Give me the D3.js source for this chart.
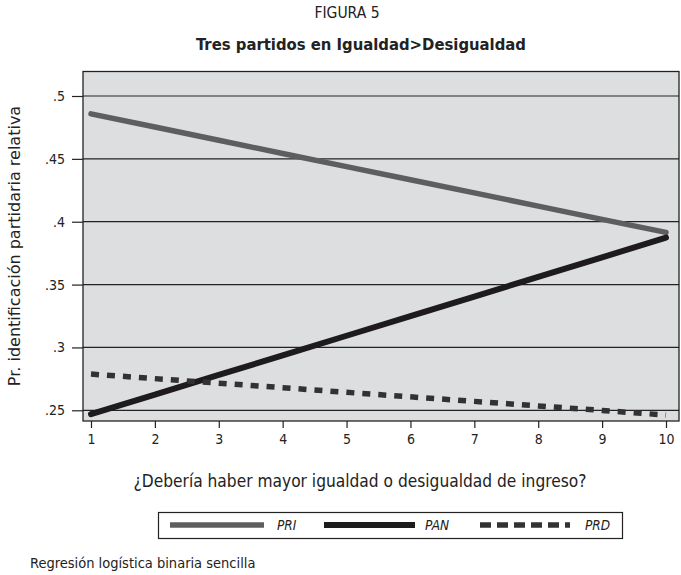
<!DOCTYPE html>
<html>
<head>
<meta charset="utf-8">
<script src="https://cdn.jsdelivr.net/npm/d3@7"></script>
<style>
  body { margin: 0; background: #fff; }
  svg { display: block; }
</style>
</head>
<body>
<div id="chart"></div>
<script>
const xValues = [1, 2, 3, 4, 5, 6, 7, 8, 9, 10];
const pri = [0.4858, 0.4753, 0.4648, 0.4543, 0.4438, 0.4334, 0.4229, 0.4124, 0.4019, 0.3915];
const pan = [0.2470, 0.2625, 0.2781, 0.2937, 0.3093, 0.3249, 0.3405, 0.3561, 0.3717, 0.3873];
const prd = [0.2788, 0.2752, 0.2716, 0.2680, 0.2643, 0.2607, 0.2571, 0.2535, 0.2499, 0.2462];
const yTicks = [0.25, 0.3, 0.35, 0.4, 0.45, 0.5];
const yTickLabels = [".25", ".3", ".35", ".4", ".45", ".5"];
const seriesNames = ["PRI", "PAN", "PRD"];

const width = 681;
const height = 575;
const condensed = "'DejaVu Sans Condensed', 'Liberation Sans Narrow', 'DejaVu Sans', sans-serif";

// plot frame
const plot = {left: 83, right: 679, top: 71.5, bottom: 421};

const x = d3.scaleLinear().domain([1, 10]).range([91, 666]);
const y = d3.scaleLinear().domain([0.25, 0.5]).range([410.3, 96]);

const styles = {
    PRI: {stroke: "#5e5e60", width: 5.5, dash: null, legendDash: null},
    PAN: {stroke: "#1d1b1c", width: 6, dash: null, legendDash: null},
    PRD: {stroke: "#333133", width: 5.5, dash: "8,8", legendDash: "11,6"}
};
const seriesData = {PRI: pri, PAN: pan, PRD: prd};

const svg = d3.select("#chart").append("svg")
    .attr("width", width)
    .attr("height", height)
    .attr("viewBox", [0, 0, width, height]);

svg.append("text")
    .attr("x", 347).attr("y", 18)
    .attr("text-anchor", "middle")
    .attr("font-family", condensed)
    .attr("font-size", 15.5)
    .attr("fill", "#222")
    .text("FIGURA 5");

svg.append("text")
    .attr("x", 361).attr("y", 50)
    .attr("text-anchor", "middle")
    .attr("font-family", condensed)
    .attr("font-weight", "bold")
    .attr("font-size", 16.5)
    .attr("fill", "#222")
    .text("Tres partidos en Igualdad>Desigualdad");

svg.append("rect")
    .attr("x", plot.left).attr("y", plot.top)
    .attr("width", plot.right - plot.left)
    .attr("height", plot.bottom - plot.top)
    .attr("fill", "#dddee0");

// gridlines
svg.append("g")
    .selectAll("line")
    .data(yTicks)
    .join("line")
    .attr("x1", plot.left).attr("x2", plot.right)
    .attr("y1", d => y(d)).attr("y2", d => y(d))
    .attr("stroke", "#222")
    .attr("stroke-width", 1.2);

// y axis
const yAxis = svg.append("g")
    .attr("transform", `translate(${plot.left},0)`)
    .call(d3.axisLeft(y).tickValues(yTicks)
        .tickFormat((d, i) => yTickLabels[i])
        .tickSize(11).tickPadding(7));
yAxis.select(".domain").remove();
yAxis.selectAll(".tick line").attr("stroke", "#222").attr("stroke-width", 1.2);
yAxis.selectAll(".tick text")
    .attr("font-family", condensed)
    .attr("font-size", 14)
    .attr("fill", "#222");

// x axis
const xAxis = svg.append("g")
    .attr("transform", `translate(0,${plot.bottom})`)
    .call(d3.axisBottom(x).tickValues(xValues)
        .tickFormat(d3.format("d"))
        .tickSize(7).tickPadding(6));
xAxis.select(".domain").remove();
xAxis.selectAll(".tick line").attr("stroke", "#222").attr("stroke-width", 1.2);
xAxis.selectAll(".tick text")
    .attr("font-family", condensed)
    .attr("font-size", 14)
    .attr("fill", "#222");

// lines
const line = d3.line()
    .x((d, i) => x(xValues[i]))
    .y(d => y(d));

seriesNames.forEach(name => {
    const s = styles[name];
    svg.append("path")
        .datum(seriesData[name])
        .attr("d", line)
        .attr("fill", "none")
        .attr("stroke", s.stroke)
        .attr("stroke-width", s.width)
        .attr("stroke-linecap", s.dash ? "butt" : "round")
        .attr("stroke-dasharray", s.dash);
});

// frame on top
svg.append("rect")
    .attr("x", plot.left).attr("y", plot.top)
    .attr("width", plot.right - plot.left)
    .attr("height", plot.bottom - plot.top)
    .attr("fill", "none")
    .attr("stroke", "#222")
    .attr("stroke-width", 1.3);

// axis titles
svg.append("text")
    .attr("transform", "translate(20,246) rotate(-90)")
    .attr("text-anchor", "middle")
    .attr("font-family", "'DejaVu Sans', sans-serif")
    .attr("font-size", 16)
    .attr("fill", "#222")
    .text("Pr. identificación partidaria relativa");

svg.append("text")
    .attr("x", 360).attr("y", 487)
    .attr("text-anchor", "middle")
    .attr("font-family", condensed)
    .attr("font-size", 17.2)
    .attr("fill", "#222")
    .text("¿Debería haber mayor igualdad o desigualdad de ingreso?");

// legend
const legend = svg.append("g");
legend.append("rect")
    .attr("x", 158.5).attr("y", 512.5)
    .attr("width", 464).attr("height", 26)
    .attr("fill", "#fff")
    .attr("stroke", "#222")
    .attr("stroke-width", 1.2);

const legendItems = [
    {name: "PRI", x0: 170, x1: 264, tx: 277},
    {name: "PAN", x0: 324, x1: 415, tx: 425},
    {name: "PRD", x0: 480, x1: 570, tx: 585}
];
legendItems.forEach(item => {
    const s = styles[item.name];
    legend.append("line")
        .attr("x1", item.x0).attr("x2", item.x1)
        .attr("y1", 525).attr("y2", 525)
        .attr("stroke", s.stroke)
        .attr("stroke-width", s.width)
        .attr("stroke-dasharray", s.legendDash);
    legend.append("text")
        .attr("x", item.tx).attr("y", 530)
        .attr("font-family", condensed)
        .attr("font-style", "italic")
        .attr("font-size", 13.5)
        .attr("fill", "#222")
        .text(item.name);
});

svg.append("text")
    .attr("x", 30).attr("y", 568)
    .attr("font-family", condensed)
    .attr("font-size", 14.5)
    .attr("fill", "#222")
    .text("Regresión logística binaria sencilla");
</script>
</body>
</html>
